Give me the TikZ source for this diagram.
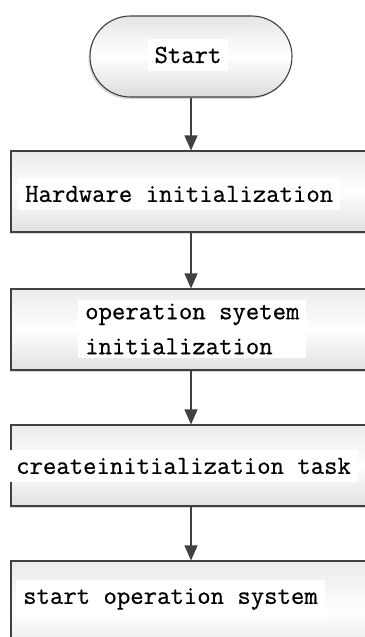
\documentclass[tikz,border=0pt]{standalone}
\usepackage{fontspec}
\newfontfamily\reffont[FakeBold=0.6]{Latin Modern Mono}
\usetikzlibrary{shapes.misc,arrows.meta,shadows}
\begin{document}
\begin{tikzpicture}[x=1pt,y=-1pt,
  line/.style={draw=black!75, line width=1.1pt},
  procbox/.style={line, rectangle, minimum width=380pt, minimum height=81pt, inner sep=0pt,
    shading=axis, top color=black!8, bottom color=black!12, middle color=white,
    drop shadow={shadow xshift=-1.5pt, shadow yshift=-2pt, opacity=0.15, fill=black}},
  termbox/.style={line, rounded rectangle, minimum width=202pt, minimum height=81pt, inner sep=0pt,
    shading=axis, top color=black!10, bottom color=black!14, middle color=white,
    drop shadow={shadow xshift=-1.5pt, shadow yshift=-2pt, opacity=0.15, fill=black}},
  lbl/.style={fill=white, inner xsep=7pt, inner ysep=8pt, font=\reffont\bfseries\fontsize{26}{35}\selectfont, align=left},
  flow/.style={line, -{Triangle[length=15pt,width=13pt]}}
]
\fill[white] (0,0) rectangle (364,637);
\useasboundingbox (0,0) rectangle (364,637);

\node[termbox] (start) at (191,56.5) {};
\node[procbox] (hw) at (201,191.5) {};
\node[procbox] (os) at (201,329.5) {};
\node[procbox] (task) at (201,465.5) {};
\node[procbox, minimum height=100pt] (run) at (201,611) {};

\node[lbl] (tstart) at (188,55) {Start};
\node[lbl, anchor=west] (thw) at (18,194) {Hardware initialization};
\node[lbl, anchor=west, inner ysep=4pt] (tos) at (78,329) {operation syetem\\initialization};
\node[lbl, anchor=west] (ttask) at (9,466) {createinitialization task};
\node[lbl, anchor=west] (trun) at (16,599) {start operation system};

\draw[flow] (start.south) -- (start.south |- hw.north);
\draw[flow] (hw.south -| start.south) -- (start.south |- os.north);
\draw[flow] (os.south -| start.south) -- (start.south |- task.north);
\draw[flow] (task.south -| start.south) -- (start.south |- run.north);
\end{tikzpicture}
\end{document}
